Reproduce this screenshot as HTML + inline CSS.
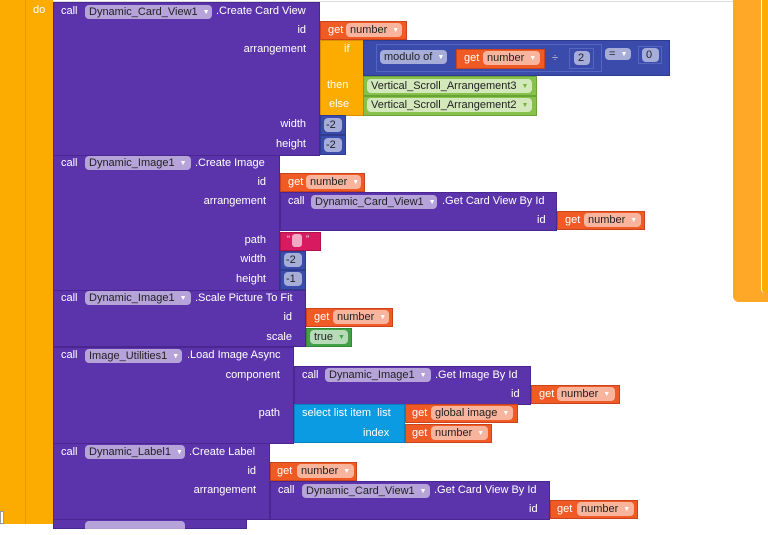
<!DOCTYPE html>
<html><head><meta charset="utf-8"><style>
body{margin:0;width:768px;height:524px;overflow:hidden;background:#fff;position:relative;font-family:"Liberation Sans",sans-serif}
div{position:absolute;box-sizing:border-box}
.pu{background:#5b34ab;border:1px solid #4a2790}
.rd{background:#f05a24;border:1px solid #c9441a}
.og{background:#fcab00;border:1px solid #d89200}
.bl{background:#3b4bab;border:1px solid #2f3c8e}
.lg{background:#86c14b;border:1px solid #6aa335}
.gr{background:#43a047;border:1px solid #2f8a33}
.mg{background:#d81b60;border:1px solid #b0124b}
.cy{background:#0a9be2;border:1px solid #0782bf}
.t{color:#fff;font-size:11px;line-height:13px;white-space:nowrap}
.r{text-align:right}
.p{height:14px;border-radius:4px;background:rgba(255,255,255,.55);color:#222;font-size:11px;line-height:14px;padding:0 4px;white-space:nowrap}
.p span{font-size:7px;color:#fff;margin-left:5px;vertical-align:1px}
</style></head><body>
<!-- top border -->
<div style="left:53px;top:1px;width:715px;height:1px;background:#ddd"></div>
<!-- left orange -->
<div style="left:0;top:0;width:53px;height:524px;background:#fcab00"></div>
<div style="left:25px;top:0;width:1px;height:524px;background:#e59a00"></div>
<div class="t" style="left:33px;top:4px">do</div>
<div style="left:0;top:511px;width:4px;height:13px;background:#fff;border:1px solid #999"></div>
<!-- right orange -->
<div style="left:733px;top:0;width:35px;height:302px;background:#ffa726;border-radius:0 0 0 6px"></div>
<div style="left:761px;top:0;width:7px;height:293px;background:#fcab00;border-left:1px solid #fff;border-radius:0 0 0 4px"></div>

<!-- Block 1 -->
<div class="pu" style="left:53px;top:2px;width:267px;height:154px"></div>
<div class="t" style="left:61px;top:5px">call</div>
<div class="p" style="left:85px;top:5px;width:127px">Dynamic_Card_View1<span>▼</span></div>
<div class="t" style="left:216px;top:5px">.Create Card View</div>
<div class="t r" style="left:200px;top:24px;width:106px">id</div>
<div class="t r" style="left:200px;top:43px;width:106px">arrangement</div>
<div class="t r" style="left:200px;top:118px;width:106px">width</div>
<div class="t r" style="left:200px;top:138px;width:106px">height</div>
<div class="rd" style="left:320px;top:21px;width:87px;height:19px"></div>
<div class="t" style="left:328px;top:24px">get</div>
<div class="p" style="left:346px;top:23px;width:56px">number<span>▼</span></div>
<div class="og" style="left:320px;top:40px;width:44px;height:76px"></div>
<div class="t" style="left:344px;top:43px">if</div>
<div class="t" style="left:327px;top:79px">then</div>
<div class="t" style="left:329px;top:98px">else</div>
<div class="bl" style="left:363px;top:40px;width:307px;height:36px"></div>
<div style="left:376px;top:44px;width:226px;height:28px;border:1px solid #5566c0"></div>
<div class="p" style="left:380px;top:50px;width:67px">modulo of<span>▼</span></div>
<div class="rd" style="left:456px;top:49px;width:89px;height:20px"></div>
<div class="t" style="left:464px;top:52px">get</div>
<div class="p" style="left:483px;top:51px;width:57px">number<span>▼</span></div>
<div class="t" style="left:552px;top:52px;color:#ccd">÷</div>
<div style="left:569px;top:48px;width:25px;height:21px;border:1px solid #5566c0"></div>
<div class="p" style="left:574px;top:51px;width:16px">2</div>
<div class="p" style="left:605px;top:48px;width:26px;height:12px;line-height:12px">=<span>▼</span></div>
<div style="left:638px;top:46px;width:24px;height:18px;border:1px solid #5566c0"></div>
<div class="p" style="left:642px;top:48px;width:17px">0</div>
<div class="lg" style="left:363px;top:76px;width:174px;height:20px"></div>
<div class="p" style="left:367px;top:79px;width:165px;background:#d3e8bb">Vertical_Scroll_Arrangement3<span style="color:#7ab33e">▼</span></div>
<div class="lg" style="left:363px;top:96px;width:174px;height:20px"></div>
<div class="p" style="left:367px;top:98px;width:165px;background:#d3e8bb">Vertical_Scroll_Arrangement2<span style="color:#7ab33e">▼</span></div>
<div class="bl" style="left:320px;top:115px;width:26px;height:20px"></div>
<div class="p" style="left:324px;top:118px;width:18px;padding:0 2px">-2</div>
<div class="bl" style="left:320px;top:135px;width:26px;height:20px"></div>
<div class="p" style="left:324px;top:138px;width:18px;padding:0 2px">-2</div>

<!-- Block 2 -->
<div class="pu" style="left:53px;top:155px;width:227px;height:136px"></div>
<div class="t" style="left:61px;top:157px">call</div>
<div class="p" style="left:85px;top:156px;width:106px">Dynamic_Image1<span>▼</span></div>
<div class="t" style="left:195px;top:157px">.Create Image</div>
<div class="t r" style="left:160px;top:176px;width:106px">id</div>
<div class="t r" style="left:160px;top:195px;width:106px">arrangement</div>
<div class="t r" style="left:160px;top:234px;width:106px">path</div>
<div class="t r" style="left:160px;top:253px;width:106px">width</div>
<div class="t r" style="left:160px;top:273px;width:106px">height</div>
<div class="rd" style="left:280px;top:173px;width:85px;height:19px"></div>
<div class="t" style="left:288px;top:176px">get</div>
<div class="p" style="left:306px;top:175px;width:55px">number<span>▼</span></div>
<div class="pu" style="left:280px;top:192px;width:277px;height:39px"></div>
<div class="t" style="left:288px;top:195px">call</div>
<div class="p" style="left:311px;top:195px;width:126px">Dynamic_Card_View1<span>▼</span></div>
<div class="t" style="left:442px;top:195px">.Get Card View By Id</div>
<div class="t" style="left:537px;top:214px">id</div>
<div class="rd" style="left:557px;top:211px;width:88px;height:19px"></div>
<div class="t" style="left:565px;top:214px">get</div>
<div class="p" style="left:584px;top:213px;width:57px">number<span>▼</span></div>
<div class="mg" style="left:280px;top:232px;width:41px;height:19px"></div>
<div class="t" style="left:287px;top:233px;font-size:9px">“</div>
<div style="left:292px;top:234px;width:10px;height:13px;border-radius:3px;background:#f3a8c4"></div>
<div class="t" style="left:306px;top:233px;font-size:9px">”</div>
<div class="bl" style="left:280px;top:251px;width:26px;height:19px"></div>
<div class="p" style="left:284px;top:253px;width:18px;padding:0 2px">-2</div>
<div class="bl" style="left:280px;top:270px;width:26px;height:20px"></div>
<div class="p" style="left:284px;top:272px;width:18px;padding:0 2px">-1</div>

<!-- Block 3 -->
<div class="pu" style="left:53px;top:290px;width:253px;height:57px"></div>
<div class="t" style="left:61px;top:292px">call</div>
<div class="p" style="left:85px;top:291px;width:106px">Dynamic_Image1<span>▼</span></div>
<div class="t" style="left:195px;top:292px">.Scale Picture To Fit</div>
<div class="t r" style="left:186px;top:311px;width:106px">id</div>
<div class="t r" style="left:186px;top:331px;width:106px">scale</div>
<div class="rd" style="left:306px;top:308px;width:87px;height:19px"></div>
<div class="t" style="left:314px;top:311px">get</div>
<div class="p" style="left:333px;top:310px;width:56px">number<span>▼</span></div>
<div class="gr" style="left:306px;top:328px;width:46px;height:19px"></div>
<div class="p" style="left:310px;top:330px;width:38px;background:#b7dbb8">true<span style="color:#43a047">▼</span></div>

<!-- Block 4 -->
<div class="pu" style="left:53px;top:347px;width:241px;height:97px"></div>
<div class="t" style="left:61px;top:349px">call</div>
<div class="p" style="left:85px;top:349px;width:97px">Image_Utilities1<span>▼</span></div>
<div class="t" style="left:187px;top:349px">.Load Image Async</div>
<div class="t r" style="left:170px;top:369px;width:110px">component</div>
<div class="t r" style="left:170px;top:407px;width:110px">path</div>
<div class="pu" style="left:294px;top:366px;width:237px;height:39px"></div>
<div class="t" style="left:302px;top:369px">call</div>
<div class="p" style="left:325px;top:368px;width:106px">Dynamic_Image1<span>▼</span></div>
<div class="t" style="left:435px;top:369px">.Get Image By Id</div>
<div class="t" style="left:511px;top:388px">id</div>
<div class="rd" style="left:531px;top:385px;width:89px;height:19px"></div>
<div class="t" style="left:539px;top:388px">get</div>
<div class="p" style="left:557px;top:387px;width:58px">number<span>▼</span></div>
<div class="cy" style="left:294px;top:404px;width:111px;height:39px"></div>
<div class="t" style="left:302px;top:407px">select list item&nbsp; list</div>
<div class="t" style="left:363px;top:427px">index</div>
<div class="rd" style="left:405px;top:404px;width:113px;height:19px"></div>
<div class="t" style="left:412px;top:407px">get</div>
<div class="p" style="left:431px;top:406px;width:82px">global image<span>▼</span></div>
<div class="rd" style="left:405px;top:424px;width:87px;height:19px"></div>
<div class="t" style="left:412px;top:427px">get</div>
<div class="p" style="left:431px;top:426px;width:57px">number<span>▼</span></div>

<!-- Block 5 -->
<div class="pu" style="left:53px;top:443px;width:217px;height:77px"></div>
<div class="t" style="left:61px;top:446px">call</div>
<div class="p" style="left:85px;top:445px;width:100px">Dynamic_Label1<span>▼</span></div>
<div class="t" style="left:189px;top:446px">.Create Label</div>
<div class="t r" style="left:150px;top:465px;width:106px">id</div>
<div class="t r" style="left:150px;top:484px;width:106px">arrangement</div>
<div class="rd" style="left:270px;top:462px;width:87px;height:19px"></div>
<div class="t" style="left:277px;top:465px">get</div>
<div class="p" style="left:297px;top:464px;width:57px">number<span>▼</span></div>
<div class="pu" style="left:270px;top:481px;width:280px;height:39px"></div>
<div class="t" style="left:278px;top:484px">call</div>
<div class="p" style="left:302px;top:484px;width:128px">Dynamic_Card_View1<span>▼</span></div>
<div class="t" style="left:434px;top:484px">.Get Card View By Id</div>
<div class="t" style="left:529px;top:503px">id</div>
<div class="rd" style="left:550px;top:500px;width:88px;height:19px"></div>
<div class="t" style="left:557px;top:503px">get</div>
<div class="p" style="left:577px;top:502px;width:57px">number<span>▼</span></div>

<!-- Block 6 (partial) -->
<div class="pu" style="left:53px;top:519px;width:194px;height:10px"></div>
<div class="p" style="left:85px;top:521px;width:100px"></div>
</body></html>
